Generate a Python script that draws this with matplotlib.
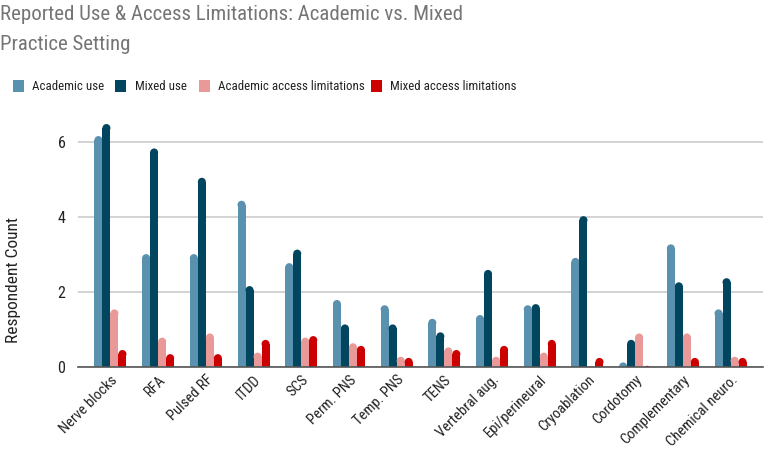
import numpy as np
import matplotlib
matplotlib.use("Agg")
import matplotlib.pyplot as plt
from matplotlib.patches import Rectangle, Ellipse

categories = ["Nerve blocks", "RFA", "Pulsed RF", "ITDD", "SCS", "Perm. PNS", "Temp. PNS",
              "TENS", "Vertebral aug.", "Epi/perineural", "Cryoablation", "Cordotomy",
              "Complementary", "Chemical neuro."]
academic_use = [6.15, 3.01, 3.01, 4.43, 2.77, 1.79, 1.65, 1.29, 1.39, 1.65, 2.91, 0.13, 3.27, 1.54]
mixed_use = [6.47, 5.82, 5.04, 2.16, 3.13, 1.14, 1.14, 0.93, 2.59, 1.68, 4.02, 0.73, 2.26, 2.37]
academic_lim = [1.54, 0.79, 0.90, 0.39, 0.79, 0.64, 0.28, 0.53, 0.28, 0.39, 0.04, 0.90, 0.90, 0.28]
mixed_lim = [0.46, 0.35, 0.35, 0.73, 0.83, 0.57, 0.25, 0.46, 0.57, 0.73, 0.25, 0.04, 0.25, 0.25]
series_names = ["Academic use", "Mixed use", "Academic access limitations", "Mixed access limitations"]
colors = ["#5A91AE", "#02455F", "#EA9999", "#CC0000"]
yticks = [0, 2, 4, 6]

plt.rcParams["font.family"] = ["Roboto Condensed", "DejaVu Sans"]

W, H = 765, 451
fig = plt.figure(figsize=(W / 100, H / 100), dpi=100)
ax_left, ax_right = 78 / W, 763 / W
y0_px, ymax = 367.3, 6.9
px_per_unit = 37.6
top_px = y0_px - ymax * px_per_unit
ax = fig.add_axes([ax_left, (H - y0_px) / H, ax_right - ax_left, (y0_px - top_px) / H])

n = len(categories)
x = np.arange(n)
bw = 0.168
ax.set_xlim(-0.68, n - 1 + 0.68)
ax.set_ylim(0, ymax)

ry = 4.0 / px_per_unit
all_series = [academic_use, mixed_use, academic_lim, mixed_lim]
for i, (vals, c) in enumerate(zip(all_series, colors)):
    xs = x + (i - 1.5) * bw
    vals = np.asarray(vals)
    body = np.clip(vals - ry, 0, None)
    ax.bar(xs, body, width=bw, color=c, linewidth=0, zorder=3)
    for xi, v in zip(xs, vals):
        ax.add_patch(Ellipse((xi, v - ry), bw, 2 * ry, color=c, linewidth=0, zorder=3))

ax.set_yticks(yticks)
ax.set_yticklabels([str(t) for t in yticks], fontsize=11.5, color="#222222")
ax.yaxis.grid(True, color="#CCCCCC", linewidth=1.2, zorder=0)
ax.tick_params(axis="y", length=0, pad=9)
ax.set_xticks(x)
ax.set_xticklabels(categories, rotation=45, ha="right", va="top", rotation_mode="anchor",
                   fontsize=10.5, color="#222222")
ax.tick_params(axis="x", length=0, pad=4)
for s in ["left", "right", "top"]:
    ax.spines[s].set_visible(False)
ax.spines["bottom"].set_color("#555555")
ax.spines["bottom"].set_linewidth(1.2)
ax.spines["bottom"].set_zorder(4)

fig.text(14 / W, 1 - 280 / H, "Respondent Count", rotation=90, ha="center", va="center",
         fontsize=12.5, color="#222222")

fig.text(0 / W, 1 - 20.5 / H, "Reported Use & Access Limitations: Academic vs. Mixed",
         fontsize=15, color="#757575", ha="left", va="baseline")
fig.text(0 / W, 1 - 49.5 / H, "Practice Setting",
         fontsize=15, color="#757575", ha="left", va="baseline")

leg_sq = [13, 115, 199, 371]
leg_tx = [32, 135, 218, 390]
ly = 86
for sx, tx, name, c in zip(leg_sq, leg_tx, series_names, colors):
    fig.add_artist(Rectangle((sx / W, 1 - (ly + 5.5) / H), 11 / W, 11 / H,
                             transform=fig.transFigure, color=c, linewidth=0))
    fig.text(tx / W, 1 - ly / H, name, fontsize=9.3, color="#222222", ha="left", va="center")

fig.savefig("out.png", dpi=100)
